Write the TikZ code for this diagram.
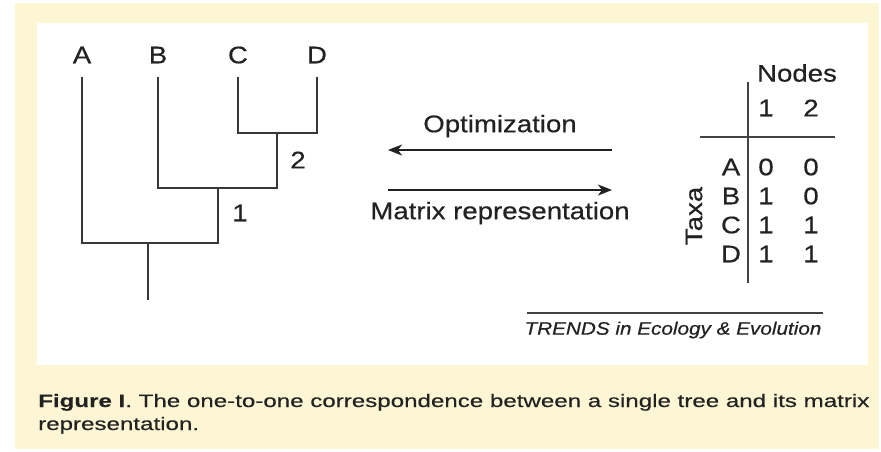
\documentclass[tikz,border=0pt]{standalone}
\usepackage{fontspec}
\setmainfont{Liberation Sans}[FakeStretch=1.15, FakeBold=0.5]
\newfontfamily\capfont{Liberation Sans}[FakeStretch=1.34, FakeBold=0.4]
\usetikzlibrary{arrows.meta,positioning}
\definecolor{panelcream}{HTML}{FCF6D4}
\definecolor{ink}{HTML}{222222}

\begin{document}
\begin{tikzpicture}[x=1pt, y=-1pt,
  branch/.style={line width=1.6pt, draw=ink!90},
  rule/.style={line width=1.5pt, draw=ink!85},
  arr/.style={line width=1.5pt, draw=ink, -{Stealth[length=14pt, width=11pt, inset=4pt]}},
  lbl/.style={font=\fontsize{24}{27}\selectfont, text=ink, inner sep=0pt},
  cell/.style={font=\fontsize{24}{27}\selectfont, text=ink, inner sep=0pt},
]
% ---- background panel ----
\useasboundingbox (0,0) rectangle (881,451);
\fill[panelcream] (15,3) rectangle (879,449);
\fill[white] (37,23) rectangle (868,365);

% ---- tree: tips ----
\node[lbl] (tA) at (82,55) {A};
\node[lbl] (tB) at (158,55) {B};
\node[lbl] (tC) at (238,55) {C};
\node[lbl] (tD) at (317,55) {D};
\coordinate (bA) at (82,77);
\coordinate (bB) at (158,77);
\coordinate (bC) at (238,77);
\coordinate (bD) at (317,77);

% ---- tree: internal nodes ----
\coordinate (n2) at (277,133);
\coordinate (n1) at (218,188);
\coordinate (rt) at (148,243);
\coordinate (base) at (148,300);

\draw[branch] (bC) |- (n2) -| (bD);
\draw[branch] (bB) |- (n1) -| (n2);
\draw[branch] (bA) |- (rt) -| (n1);
\draw[branch] (rt) -- (base);

\node[lbl] (lab2) at (298,160) {2};
\node[lbl] (lab1) at (240,213) {1};

% ---- arrows between tree and matrix ----
\coordinate (optR) at (612,150);
\coordinate (optL) at (388,150);
\coordinate (matL) at (388,190);
\coordinate (matR) at (612,190);
\draw[arr] (optR) -- (optL);
\draw[arr] (matL) -- (matR);
\node[lbl] (opt) at (500,126) {Optimization};
\node[lbl] (mat) at (500,213) {Matrix representation};

% ---- matrix ----
\node[cell] (nodes) at (797,73) {Nodes};
\node[cell] (h1) at (766,108) {1};
\node[cell] (h2) at (811,108) {2};
\coordinate (vtop) at (748,82);
\coordinate (vbot) at (748,283);
\coordinate (hl) at (700,137);
\coordinate (hr) at (835,137);
\draw[rule] (vtop) -- (vbot);
\draw[rule] (hl) -- (hr);

\foreach \t/\a/\b [count=\i] in {A/0/0, B/1/0, C/1/1, D/1/1} {
  \node[cell] (r\t) at (731,{138+29*\i}) {\t};
  \node[cell] (c\t1) at (766,{138+29*\i}) {\a};
  \node[cell] (c\t2) at (811,{138+29*\i}) {\b};
}
\node[cell, rotate=90] (taxa) at (694,216) {Taxa};

% ---- journal credit ----
\coordinate (crl) at (527,313);
\coordinate (crr) at (823,313);
\draw[line width=1.3pt, draw=ink!85] (crl) -- (crr);
\node[font=\fontsize{18}{20}\selectfont\itshape, text=ink, inner sep=0pt]
  (credit) at (673,330) {TRENDS in Ecology \& Evolution};

% ---- caption ----
\node[font=\capfont\fontsize{18}{23}\selectfont, text=ink, inner sep=0pt,
      anchor=base west, align=left] (cap) at (38,430)
  {\textbf{Figure I}. The one-to-one correspondence between a single tree and its matrix\\
   representation.};
\end{tikzpicture}
\end{document}
